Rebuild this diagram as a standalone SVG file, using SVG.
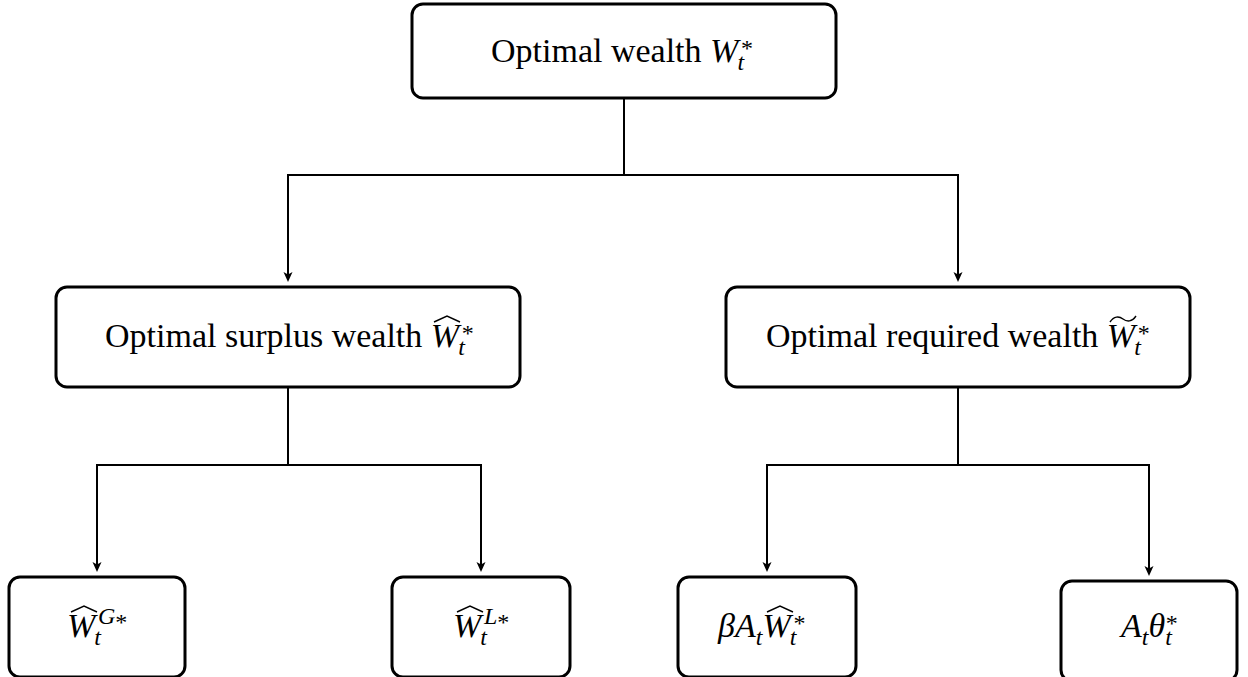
<svg xmlns="http://www.w3.org/2000/svg" width="1248" height="677" viewBox="0 0 1248 677">
<style>
.box{fill:#fff;stroke:#000;stroke-width:3}
.c{fill:none;stroke:#000;stroke-width:2}
.t{font-family:"Liberation Serif","DejaVu Serif",serif;font-size:34px;fill:#000}
.i{font-style:italic}
.s{font-size:24px}
.acc{fill:none;stroke:#000;stroke-width:1.4;stroke-linejoin:miter}
</style>
<defs>
<marker id="ah" viewBox="-10 -5 11 10" refX="-3" refY="0" markerWidth="11" markerHeight="10" markerUnits="userSpaceOnUse" orient="auto">
<path d="M0,0 L-10,-4.5 L-7.5,0 L-10,4.5 Z" fill="#000"/>
</marker>
</defs>
<rect width="1248" height="677" fill="#fff"/>
<g id="connectors">
<path class="c" d="M624 98 V175 M287 175 H959"/>
<path class="c" d="M288 175 V279" marker-end="url(#ah)"/>
<path class="c" d="M958 175 V279" marker-end="url(#ah)"/>
<path class="c" d="M288 387 V465 M96 465 H482"/>
<path class="c" d="M97 465 V569" marker-end="url(#ah)"/>
<path class="c" d="M481 465 V569" marker-end="url(#ah)"/>
<path class="c" d="M958 387 V465 M766 465 H1150"/>
<path class="c" d="M767 465 V569" marker-end="url(#ah)"/>
<path class="c" d="M1149 465 V573" marker-end="url(#ah)"/>
</g>
<g id="n-top">
<rect class="box" x="412" y="4" width="424" height="94" rx="11"/>
<text class="t" x="491" y="62">Optimal wealth <tspan class="i">W</tspan><tspan class="s i" dx="-1" dy="8">t</tspan><tspan class="s" dx="-3" dy="-14">*</tspan></text>
</g>
<g id="n-surplus">
<rect class="box" x="56" y="287" width="464" height="100" rx="11"/>
<text class="t" x="105" y="347">Optimal surplus wealth <tspan class="i">W</tspan><tspan class="s i" dx="-1" dy="8">t</tspan><tspan class="s" dx="-3" dy="-14">*</tspan></text>
<path class="acc" d="M434 322 L447 316 L460 322"/>
</g>
<g id="n-required">
<rect class="box" x="726" y="287" width="464" height="100" rx="11"/>
<text class="t" x="766" y="347">Optimal required wealth <tspan class="i">W</tspan><tspan class="s i" dx="-1" dy="8">t</tspan><tspan class="s" dx="-3" dy="-14">*</tspan></text>
<path class="acc" d="M1110 322 C1114 316 1119 316 1123 319 C1127 322 1132 322 1136 316"/>
</g>
<g id="n-g">
<rect class="box" x="9" y="577" width="176" height="100" rx="11"/>
<text class="t" x="67" y="637"><tspan class="i">W</tspan><tspan class="s i" dx="-1" dy="8">t</tspan><tspan class="s i" dx="-3" dy="-21">G</tspan><tspan class="s" dy="6">*</tspan></text>
<path class="acc" d="M71 612 L84 606 L97 612"/>
</g>
<g id="n-l">
<rect class="box" x="392" y="577" width="178" height="100" rx="11"/>
<text class="t" x="453" y="637"><tspan class="i">W</tspan><tspan class="s i" dx="-1" dy="8">t</tspan><tspan class="s i" dx="-3" dy="-21">L</tspan><tspan class="s" dy="6">*</tspan></text>
<path class="acc" d="M457 612 L470 606 L483 612"/>
</g>
<g id="n-beta">
<rect class="box" x="678" y="577" width="178" height="100" rx="11"/>
<text class="t" x="718" y="637"><tspan class="i">βA</tspan><tspan class="s i" dy="8">t</tspan><tspan class="i" dy="-8">W</tspan><tspan class="s i" dx="-1" dy="8">t</tspan><tspan class="s" dx="-3" dy="-14">*</tspan></text>
<path class="acc" d="M767 612 L780 606 L793 612"/>
</g>
<g id="n-theta">
<rect class="box" x="1061" y="581" width="176" height="100" rx="11"/>
<text class="t" x="1121" y="637"><tspan class="i">A</tspan><tspan class="s i" dy="8">t</tspan><tspan class="i" dy="-8">θ</tspan><tspan class="s i" dy="8">t</tspan><tspan class="s" dx="-6" dy="-14">*</tspan></text>
</g>
</svg>
